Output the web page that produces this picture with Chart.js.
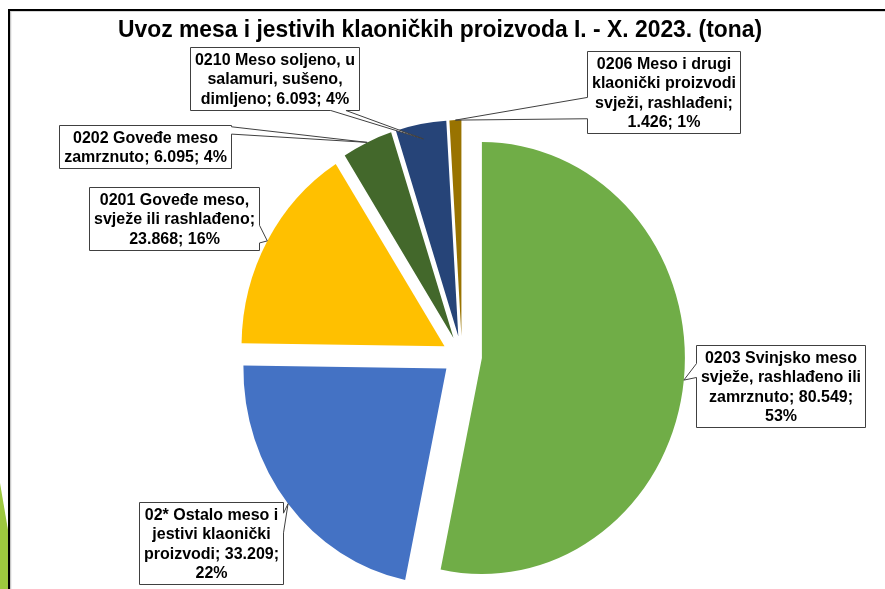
<!DOCTYPE html>
<html>
<head>
<meta charset="utf-8">
<script src="https://cdn.jsdelivr.net/npm/chart.js@4.4.0/dist/chart.umd.min.js"></script>
<style>
  html, body { margin: 0; padding: 0; background: #ffffff; }
  canvas { display: block; }
</style>
</head>
<body>
<canvas id="chart" width="885" height="589"></canvas>
<script>
// Import of meat and edible offal, January–October 2023 (tonnes)
const chartTitle = 'Uvoz mesa i jestivih klaoničkih proizvoda I. - X. 2023. (tona)';
const categories = [
  '0203 Svinjsko meso svježe, rashlađeno ili zamrznuto',
  '02* Ostalo meso i jestivi klaonički proizvodi',
  '0201 Goveđe meso, svježe ili rashlađeno',
  '0202 Goveđe meso zamrznuto',
  '0210 Meso soljeno, u salamuri, sušeno, dimljeno',
  '0206 Meso i drugi klaonički proizvodi svježi, rashlađeni'
];
const values = [80549, 33209, 23868, 6095, 6093, 1426];
const sliceColors = ['#70AD47', '#4472C4', '#FFC000', '#43682B', '#264478', '#997300'];

// Callout boxes: centre, wrap width, side carrying the pointer, pointer base (fractions of that side),
// and how far out along the slice the pointer reaches (fraction of the radius).
const calloutLayout = [
  { cx: 780, cy: 386, wrap: 162, side: 'left',   base: [0.22, 0.39], reach: 1.0 },
  { cx: 211, cy: 543, wrap: 138, side: 'right',  base: [0.13, 0.37], reach: 1.0 },
  { cx: 174, cy: 218, wrap: 164, side: 'right',  base: [0.60, 0.88], reach: 1.0 },
  { cx: 145, cy: 146, wrap: 166, side: 'right',  base: [0.03, 0.20], reach: 1.0 },
  { cx: 274, cy: 78,  wrap: 162, side: 'bottom', base: [0.83, 0.92], reach: 0.93 },
  { cx: 663, cy: 92,  wrap: 146, side: 'left',   base: [0.56, 0.82], reach: 1.0 }
];

const PIE_RADIUS = 203;
const EXPLODE = 20;
const Y_STRETCH = 1.064;
const LABEL_FONT = 'bold 16px "Liberation Sans", Arial, sans-serif';
const LINE_H = 19.5;

const total = values.reduce((a, b) => a + b, 0);
const fmtThousands = v => String(v).replace(/\B(?=(\d{3})+(?!\d))/g, '.');

function wrapText(ctx, text, maxW) {
  const words = text.split(' ');
  const lines = [];
  let cur = '';
  words.forEach(w => {
    const test = cur ? cur + ' ' + w : w;
    if (cur && ctx.measureText(test).width > maxW) {
      lines.push(cur);
      cur = w;
    } else {
      cur = test;
    }
  });
  if (cur) lines.push(cur);
  return lines;
}

function calloutPath(ctx, L, T, W, H, side, b1, b2, tx, ty) {
  ctx.beginPath();
  ctx.moveTo(L, T);
  if (side === 'top') { ctx.lineTo(L + W * b1, T); ctx.lineTo(tx, ty); ctx.lineTo(L + W * b2, T); }
  ctx.lineTo(L + W, T);
  if (side === 'right') { ctx.lineTo(L + W, T + H * b1); ctx.lineTo(tx, ty); ctx.lineTo(L + W, T + H * b2); }
  ctx.lineTo(L + W, T + H);
  if (side === 'bottom') { ctx.lineTo(L + W * b2, T + H); ctx.lineTo(tx, ty); ctx.lineTo(L + W * b1, T + H); }
  ctx.lineTo(L, T + H);
  if (side === 'left') { ctx.lineTo(L, T + H * b2); ctx.lineTo(tx, ty); ctx.lineTo(L, T + H * b1); }
  ctx.closePath();
}

const explodedPie = {
  id: 'explodedPie',
  beforeDraw(chart) {
    const ctx = chart.ctx;
    const W = chart.width, H = chart.height;
    ctx.save();
    ctx.fillStyle = '#ffffff';
    ctx.fillRect(0, 0, W, H);
    // slide accent at the left edge
    ctx.fillStyle = '#9DC83F';
    ctx.beginPath();
    ctx.moveTo(0, 483);
    ctx.lineTo(8, 530);
    ctx.lineTo(8, H);
    ctx.lineTo(0, H);
    ctx.closePath();
    ctx.fill();
    // frame
    ctx.strokeStyle = '#c8c8c8';
    ctx.lineWidth = 1.5;
    ctx.beginPath();
    ctx.moveTo(10.5, H); ctx.lineTo(10.5, 11); ctx.lineTo(W, 11);
    ctx.stroke();
    ctx.strokeStyle = '#000000';
    ctx.lineWidth = 2;
    ctx.beginPath();
    ctx.moveTo(9, H); ctx.lineTo(9, 10); ctx.lineTo(W, 10);
    ctx.stroke();
    ctx.restore();
  },
  beforeDatasetsDraw(chart) {
    const ctx = chart.ctx;
    const meta = chart.getDatasetMeta(0);
    meta.data.forEach(arc => {
      const p = arc.getProps(['x', 'y', 'startAngle', 'endAngle']);
      const mid = (p.startAngle + p.endAngle) / 2;
      ctx.save();
      ctx.translate(Math.cos(mid) * EXPLODE, Math.sin(mid) * EXPLODE);
      ctx.translate(p.x, p.y);
      ctx.scale(1, Y_STRETCH);
      ctx.translate(-p.x, -p.y);
      arc.draw(ctx);
      ctx.restore();
    });
    return false;
  },
  afterDraw(chart) {
    const ctx = chart.ctx;
    ctx.save();
    // title, set in a condensed bold face
    ctx.font = 'bold 24px "Liberation Sans Narrow", "Liberation Sans", Arial, sans-serif';
    ctx.fillStyle = '#000000';
    ctx.textAlign = 'center';
    ctx.textBaseline = 'alphabetic';
    const tw = ctx.measureText(chartTitle).width;
    const sx = Math.min(1, 644 / tw);
    ctx.translate(440, 37);
    ctx.scale(sx, 1);
    ctx.fillText(chartTitle, 0, 0);
    ctx.restore();

    // callouts
    const meta = chart.getDatasetMeta(0);
    ctx.save();
    ctx.font = LABEL_FONT;
    meta.data.forEach((arc, i) => {
      const lay = calloutLayout[i];
      const p = arc.getProps(['x', 'y', 'startAngle', 'endAngle', 'outerRadius']);
      const mid = (p.startAngle + p.endAngle) / 2;
      const r = p.outerRadius * lay.reach;
      const tx = p.x + Math.cos(mid) * (EXPLODE + r);
      const ty = p.y + Math.sin(mid) * EXPLODE + Math.sin(mid) * r * Y_STRETCH;
      const pct = Math.round(values[i] / total * 100);
      const text = categories[i] + '; ' + fmtThousands(values[i]) + '; ' + pct + '%';
      const lines = wrapText(ctx, text, lay.wrap);
      const maxW = Math.max(...lines.map(l => ctx.measureText(l).width));
      const bw = Math.round(maxW + 9);
      const bh = Math.round(lines.length * LINE_H + 4);
      const L = Math.round(lay.cx - bw / 2) + 0.5;
      const T = Math.round(lay.cy - bh / 2) + 0.5;
      calloutPath(ctx, L, T, bw, bh, lay.side, lay.base[0], lay.base[1], tx, ty);
      ctx.fillStyle = '#ffffff';
      ctx.fill();
      ctx.strokeStyle = '#404040';
      ctx.lineWidth = 1;
      ctx.stroke();
      ctx.fillStyle = '#000000';
      ctx.textAlign = 'center';
      ctx.textBaseline = 'middle';
      lines.forEach((ln, k) => {
        ctx.fillText(ln, L + bw / 2, T + 2 + LINE_H * (k + 0.5) + 1);
      });
    });
    ctx.restore();
  }
};

new Chart(document.getElementById('chart'), {
  type: 'pie',
  data: {
    labels: categories,
    datasets: [{
      data: values,
      backgroundColor: sliceColors,
      borderWidth: 0
    }]
  },
  options: {
    responsive: false,
    animation: false,
    radius: PIE_RADIUS,
    layout: { padding: { left: 40, right: 1, top: 124, bottom: 1 } },
    plugins: {
      legend: { display: false },
      tooltip: { enabled: false },
      title: { display: false }
    },
    events: []
  },
  plugins: [explodedPie]
});
</script>
</body>
</html>
